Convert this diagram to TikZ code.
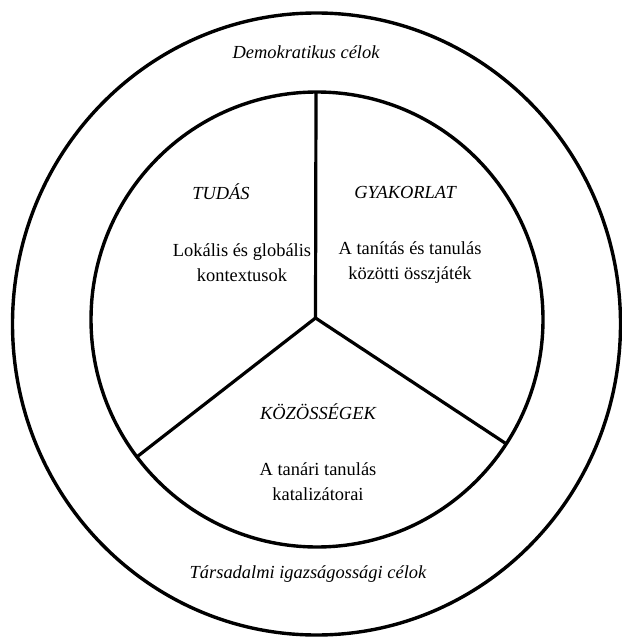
\documentclass[tikz,border=0pt]{standalone}
\usepackage{fontspec}
\setmainfont{Liberation Serif}
\begin{document}
\begin{tikzpicture}[x=1bp,y=-1bp,
  ring/.style={line width=3.4bp},
  spoke/.style={line width=3.2bp},
  lbl/.style={font=\fontsize{18.5}{25}\selectfont, align=center, inner sep=0pt},
  ttl/.style={font=\fontsize{18.5}{25}\selectfont\itshape, align=center, inner sep=0pt}]
\useasboundingbox (0,0) rectangle (622,637);
% outer and inner rings
\draw[ring] (316.5,324) ellipse [x radius=304, y radius=311];
\draw[ring] (317,319.5) ellipse [x radius=226, y radius=227.5];
% spokes
\coordinate (c) at (315.5,318);
\coordinate (t) at (316,92);
\coordinate (bl) at (138,456);
\coordinate (br) at (505,443);
\draw[spoke, line join=miter] (t) -- (c);
\draw[spoke, line join=miter] (bl) -- (c) -- (br);
% texts
\node[ttl] (demo) at (306,52) {Demokratikus célok};
\node[ttl] (tars) at (308,574) {Társadalmi igazságossági célok};
\node[ttl] (tudas) at (221,192) {TUDÁS};
\node[lbl] (tudasT) at (242,263) {Lokális és globális\\kontextusok};
\node[ttl] (gyak) at (405,192) {GYAKORLAT};
\node[lbl] (gyakT) at (410,263) {A tanítás és tanulás\\közötti összjáték};
\node[ttl] (koz) at (318,412) {KÖZÖSSÉGEK};
\node[lbl] (kozT) at (318,482) {A tanári tanulás\\katalizátorai};
\end{tikzpicture}
\end{document}
